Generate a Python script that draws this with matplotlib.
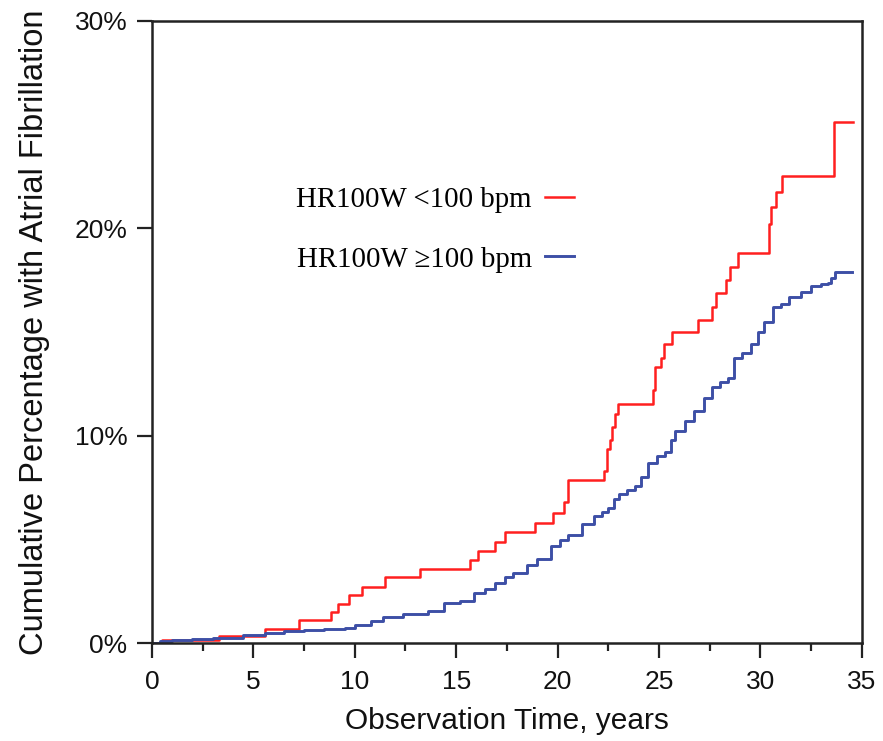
import numpy as np
import matplotlib
matplotlib.use('Agg')
import matplotlib.pyplot as plt
from matplotlib.ticker import FuncFormatter, MultipleLocator

# HR100W < 100 bpm (red), step points: time in years, cumulative %
red_t = [0, 0.5, 3.3, 5.6, 7.25, 8.85, 9.2, 9.7, 10.35, 11.5, 13.2, 15.7, 16.1, 16.9,
         17.4, 18.9, 19.8, 20.3, 20.5, 22.3, 22.45, 22.6, 22.7, 22.85, 23.0, 24.7,
         24.8, 25.1, 25.25, 25.65, 26.9, 27.6, 27.8, 28.3, 28.5, 28.9, 30.4, 30.5,
         30.75, 31.05, 33.65, 34.55]
red_y = [0, 0.15, 0.34, 0.67, 1.1, 1.5, 1.9, 2.3, 2.72, 3.17, 3.56, 4.0, 4.43, 4.87,
         5.37, 5.8, 6.28, 6.8, 7.85, 8.3, 9.37, 9.77, 10.4, 11.05, 11.55, 12.2,
         13.3, 13.75, 14.4, 15.0, 15.6, 16.2, 16.88, 17.5, 18.15, 18.8, 20.2, 21.0,
         21.75, 22.5, 25.1, 25.1]

# HR100W >= 100 bpm (blue)
blue_t = [0, 0.4, 1.0, 2.0, 3.0, 4.5, 5.6, 6.5, 7.5, 8.5, 9.5, 10.0, 10.8, 11.4, 12.4,
          13.6, 14.4, 15.2, 15.9, 16.4, 16.9, 17.4, 17.8, 18.5, 19.0, 19.7, 20.1, 20.5,
          21.2, 21.8, 22.2, 22.5, 22.8, 23.05, 23.4, 23.8, 24.1, 24.45, 24.9, 25.3,
          25.6, 25.8, 26.3, 26.75, 27.2, 27.6, 28.0, 28.4, 28.7, 29.1, 29.56, 29.9,
          30.2, 30.6, 31.0, 31.4, 32.0, 32.5, 33.0, 33.35, 33.5, 33.7, 34.5]
blue_y = [0.0, 0.12, 0.15, 0.2, 0.25, 0.38, 0.48, 0.57, 0.62, 0.68, 0.75, 0.88, 1.05,
          1.25, 1.42, 1.55, 1.92, 2.05, 2.4, 2.6, 2.92, 3.2, 3.38, 3.75, 4.05, 4.7,
          4.95, 5.2, 5.75, 6.15, 6.3, 6.5, 6.95, 7.2, 7.4, 7.6, 8.0, 8.7, 9.0, 9.2,
          9.8, 10.25, 10.7, 11.2, 11.8, 12.35, 12.6, 12.8, 13.75, 14.0, 14.4, 15.0,
          15.5, 16.2, 16.35, 16.7, 16.95, 17.2, 17.3, 17.35, 17.6, 17.9, 17.9]

labels = ['HR100W <100 bpm', 'HR100W \u2265100 bpm']

plt.rcParams['font.family'] = ['Liberation Sans', 'DejaVu Sans']

fig = plt.figure(figsize=(8.83, 7.41), dpi=100)
ax = fig.add_axes([0.172, 0.132, 0.804, 0.840])

ax.plot(red_t, red_y, drawstyle='steps-post', color='#ff1f1f', lw=1.8, label=labels[0])
ax.plot(blue_t, blue_y, drawstyle='steps-post', color='#3d4fa6', lw=2.1, label=labels[1])

ax.set_xlim(0, 35)
ax.set_ylim(0, 30)
ax.xaxis.set_major_locator(MultipleLocator(5))
ax.xaxis.set_minor_locator(MultipleLocator(2.5))
ax.yaxis.set_major_locator(MultipleLocator(10))
ax.yaxis.set_major_formatter(FuncFormatter(lambda v, p: '%d%%' % v))

for s in ax.spines.values():
    s.set_linewidth(1.8)
    s.set_color('#222222')
ax.tick_params(which='major', direction='out', length=11, width=1.6, labelsize=19,
               colors='#222222', labelcolor='#111111')
ax.tick_params(axis='x', which='major', pad=8)
ax.tick_params(axis='y', which='major', pad=6.5)
ax.tick_params(which='minor', direction='out', length=5.5, width=1.6, colors='#222222')

ax.set_xlabel('Observation Time, years', fontsize=21.5, labelpad=10, color='#111111')
ax.set_ylabel('Cumulative Percentage with Atrial Fibrillation', fontsize=23.5,
              labelpad=18, color='#111111')

leg = ax.legend(loc='center right', bbox_to_anchor=(0.666, 0.69),
                bbox_transform=fig.transFigure, frameon=False, markerfirst=False,
                borderpad=0, handlelength=1.0, handletextpad=0.45, labelspacing=1.15,
                prop={'family': 'Liberation Serif', 'size': 20.8})

fig.savefig('out.png', dpi=100)
